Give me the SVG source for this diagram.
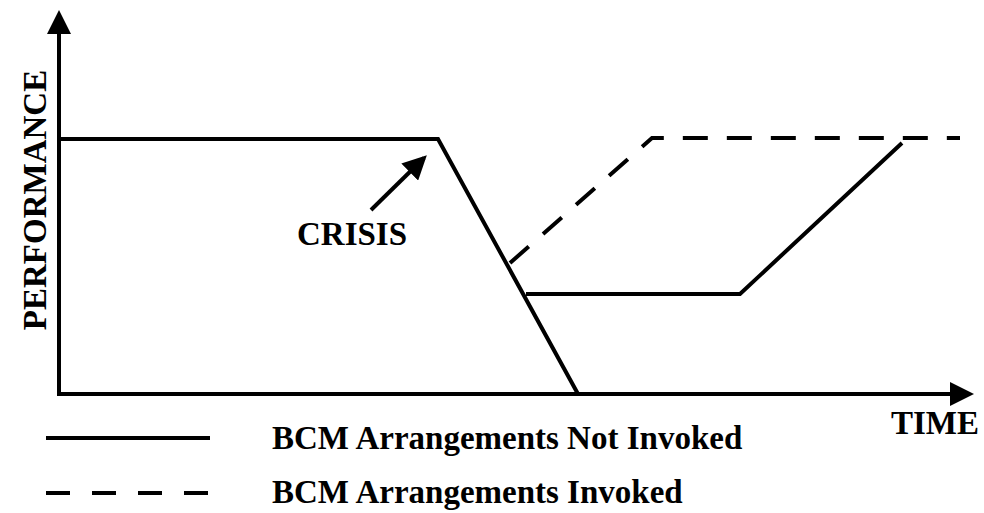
<svg xmlns="http://www.w3.org/2000/svg" width="984" height="513" viewBox="0 0 984 513">
  <style>
    .ln { fill: none; stroke: #000; stroke-width: 4; stroke-linejoin: miter; }
    .dash { stroke-dasharray: 25 19; }
    .lbl { font-family: "Liberation Serif", "Times New Roman", serif; font-weight: bold; font-size: 33px; fill: #000; }
  </style>
  <defs>
    <marker id="head" markerWidth="6" markerHeight="6" refX="5" refY="3" orient="auto" markerUnits="strokeWidth">
      <path d="M0,0 L6,3 L0,6 Z" fill="#000"/>
    </marker>
  </defs>
  <rect width="984" height="513" fill="#fff"/>

  <!-- axes -->
  <g id="axes">
    <line class="ln" x1="59" y1="396" x2="59" y2="14" marker-end="url(#head)"/>
    <line class="ln" x1="57" y1="394" x2="970" y2="394" marker-end="url(#head)"/>
    <text class="lbl" x="891" y="434">TIME</text>
    <text class="lbl" transform="translate(46,200) rotate(-90)" text-anchor="middle">PERFORMANCE</text>
  </g>

  <!-- performance curves -->
  <g id="connectors">
    <polyline id="not-invoked" class="ln" points="59,139 438,139 578,394"/>
    <polyline id="recovery-late" class="ln" points="526,294 740,294 902,143"/>
    <polyline id="invoked" class="ln dash" points="510,263 652,138 960,138"/>
    <line id="crisis-arrow" class="ln" x1="371" y1="210" x2="424" y2="158" marker-end="url(#head)"/>
  </g>

  <g id="crisis">
    <text class="lbl" x="297" y="245">CRISIS</text>
  </g>

  <!-- legend -->
  <g id="legend">
    <line class="ln" x1="46" y1="438" x2="210" y2="438"/>
    <line class="ln" x1="46" y1="493" x2="210" y2="493" stroke-dasharray="24 22"/>
    <text class="lbl" x="272" y="449">BCM Arrangements Not Invoked</text>
    <text class="lbl" x="272" y="503">BCM Arrangements Invoked</text>
  </g>
</svg>
